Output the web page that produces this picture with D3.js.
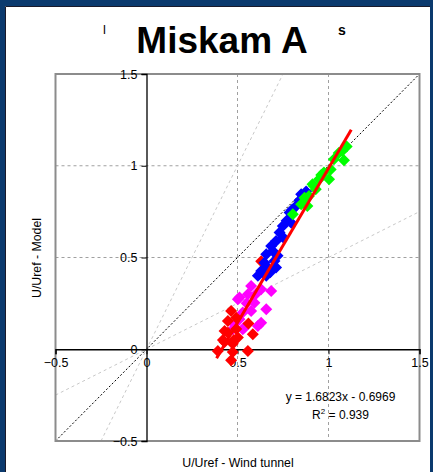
<!DOCTYPE html>
<html><head><meta charset="utf-8">
<script src="https://cdn.jsdelivr.net/npm/d3@7"></script>
<style>html,body{margin:0;padding:0;background:#fff;}svg{display:block;}</style>
</head><body>
<script>
const title = "Miskam A";
const xTitle = "U/Uref - Wind tunnel";
const yTitle = "U/Uref - Model";
const xTicks = [-0.5, 0, 0.5, 1, 1.5];
const yTicks = [-0.5, 0, 0.5, 1, 1.5];
const gridX = [0.5, 1];
const gridY = [0.5, 1];
const refSlopes = [2, 0.5];
const slope = 1.6823, intercept = -0.6969, r2 = 0.939;
const trendRange = [0.385, 1.125];

const magentaPts = [[0.575,0.345],[0.63,0.327],[0.557,0.30],[0.685,0.318],[0.511,0.282],[0.593,0.254],[0.658,0.218],[0.575,0.209],[0.529,0.20],[0.63,0.145],[0.484,0.136],[0.529,0.109],[0.474,0.109],[0.612,0.127],[0.511,0.163],[0.502,0.272],[0.538,0.118],[0.60,0.30],[0.55,0.25]];
const redPts = [[0.392,-0.01],[0.474,-0.015],[0.557,-0.01],[0.465,-0.06],[0.474,0.03],[0.429,0.04],[0.502,0.064],[0.584,0.082],[0.447,0.09],[0.493,0.11],[0.429,0.10],[0.447,0.154],[0.465,0.209],[0.493,0.172],[0.56,0.14],[0.42,0.05],[0.48,0.05],[0.63,0.48]];
const bluePts = [[0.877,0.86],[0.85,0.845],[0.84,0.81],[0.822,0.78],[0.80,0.76],[0.786,0.745],[0.795,0.69],[0.77,0.70],[0.749,0.672],[0.731,0.636],[0.75,0.61],[0.712,0.59],[0.685,0.563],[0.694,0.536],[0.658,0.518],[0.72,0.51],[0.703,0.481],[0.648,0.472],[0.712,0.445],[0.63,0.427],[0.658,0.40],[0.612,0.40],[0.68,0.42],[0.66,0.45]];
const greenPts = [[1.10,1.105],[1.075,1.08],[1.056,1.07],[1.085,1.03],[1.03,1.035],[1.012,0.98],[1.003,0.926],[0.975,0.963],[0.948,0.926],[0.912,0.899],[0.93,0.872],[0.893,0.835],[0.868,0.826],[0.884,0.781],[0.85,0.79],[0.804,0.736],[0.92,0.89],[0.96,0.95]];
const series = [
  {pts: magentaPts, color: "#ff00ff"},
  {pts: redPts, color: "#ff0000"},
  {pts: bluePts, color: "#0000ff"},
  {pts: greenPts, color: "#00ff00"}
];

const W = 433, H = 472;
const svg = d3.select("body").append("svg").attr("width", W).attr("height", H);
// frame
svg.append("rect").attr("width", W).attr("height", H).attr("fill", "#0b3a6e");
svg.append("rect").attr("x", 5).attr("y", 6).attr("width", 425).attr("height", H - 6).attr("fill", "#fff");
svg.append("path").attr("d", "M5.5,472V6.5H430").attr("stroke", "#1a1a2a").attr("fill", "none");

const x = d3.scaleLinear().domain([-0.5, 1.5]).range([55.5, 419.5]);
const y = d3.scaleLinear().domain([-0.5, 1.5]).range([441, 74]);
const font = "Liberation Sans, Arial, sans-serif";

// gridlines
svg.append("g").selectAll("line").data(gridX).join("line")
  .attr("x1", d => x(d)).attr("x2", d => x(d)).attr("y1", y(1.5)).attr("y2", y(-0.5))
  .attr("stroke", "#a0a0a0").attr("stroke-dasharray", "3,3");
svg.append("g").selectAll("line").data(gridY).join("line")
  .attr("y1", d => y(d)).attr("y2", d => y(d)).attr("x1", x(-0.5)).attr("x2", x(1.5))
  .attr("stroke", "#a0a0a0").attr("stroke-dasharray", "3,3");

// reference lines
svg.append("clipPath").attr("id", "pc").append("rect")
  .attr("x", x(-0.5)).attr("y", y(1.5)).attr("width", x(1.5) - x(-0.5)).attr("height", y(-0.5) - y(1.5));
const refG = svg.append("g").attr("clip-path", "url(#pc)");
refG.selectAll("line.ref").data(refSlopes).join("line").attr("class", "ref")
  .attr("x1", d => x(-0.5 / Math.max(d, 1)))
  .attr("y1", d => y(d * (-0.5 / Math.max(d, 1))))
  .attr("x2", d => x(1.5 / Math.max(d, 1)))
  .attr("y2", d => y(d * 1.5 / Math.max(d, 1)))
  .attr("stroke", "#c8c8c8").attr("stroke-width", 1).attr("stroke-dasharray", "3,3");
refG.append("line")
  .attr("x1", x(-0.5)).attr("y1", y(-0.5)).attr("x2", x(1.5)).attr("y2", y(1.5))
  .attr("stroke", "#000").attr("stroke-width", 1).attr("stroke-dasharray", "2,2");

// plot border
svg.append("rect").attr("x", x(-0.5)).attr("y", y(1.5)).attr("width", x(1.5) - x(-0.5)).attr("height", y(-0.5) - y(1.5))
  .attr("fill", "none").attr("stroke", "#8c8c8c").attr("stroke-width", 2);

// axes through origin
const xAxis = d3.axisBottom(x).tickValues(xTicks).tickSize(5).tickFormat(d3.format("~g"));
const yAxis = d3.axisLeft(y).tickValues(yTicks).tickSize(5).tickFormat(d3.format("~g"));
const gx = svg.append("g").attr("transform", `translate(0,${y(0)})`).call(xAxis);
const gy = svg.append("g").attr("transform", `translate(${x(0)},0)`).call(yAxis);
[gx, gy].forEach(g => {
  g.select(".domain").attr("stroke", "#000").attr("stroke-width", 1.3);
  g.selectAll(".tick line").attr("stroke", "#000");
  g.selectAll("text").attr("font-family", font).attr("font-size", 12.5).attr("fill", "#000");
});
gx.selectAll("text").attr("dy", "0.95em").attr("y", 6);
gy.selectAll("text").attr("x", -9).attr("dx", 0);

// points
series.forEach(s => {
  svg.append("g").selectAll("path").data(s.pts).join("path")
    .attr("d", d3.symbol().type(d3.symbolSquare).size(72))
    .attr("transform", d => `translate(${x(d[0])},${y(d[1])}) rotate(45)`)
    .attr("fill", s.color);
});

// trendline
svg.append("line")
  .attr("x1", x(trendRange[0])).attr("y1", y(slope * trendRange[0] + intercept))
  .attr("x2", x(trendRange[1])).attr("y2", y(slope * trendRange[1] + intercept))
  .attr("stroke", "#ff0000").attr("stroke-width", 3);

// equation
const eq = svg.append("g").attr("font-family", font).attr("font-size", 12).attr("fill", "#000").attr("text-anchor", "middle");
eq.append("text").attr("x", 340.5).attr("y", 401).text(`y = ${slope}x - ${Math.abs(intercept)}`);
const r2t = eq.append("text").attr("x", 340.5).attr("y", 418.5);
r2t.append("tspan").text("R");
r2t.append("tspan").attr("font-size", 8).attr("dy", -5).text("2");
r2t.append("tspan").attr("dy", 5).text(` = ${r2}`);

// titles
svg.append("text").attr("x", 103).attr("y", 34).attr("font-family", font).attr("font-size", 13).text("l");
svg.append("text").attr("x", 338).attr("y", 35).attr("font-family", font).attr("font-size", 14).attr("font-weight", "bold").text("s");
svg.append("rect").attr("x", 128).attr("y", 16).attr("width", 190).attr("height", 44).attr("fill", "#fff");
svg.append("text").attr("x", 222).attr("y", 53).attr("text-anchor", "middle").attr("font-family", font)
  .attr("font-weight", "bold").attr("font-size", 37).attr("fill", "#000").text(title);
svg.append("text").attr("x", 238).attr("y", 467).attr("text-anchor", "middle").attr("font-family", font)
  .attr("font-size", 12.3).attr("fill", "#000").text(xTitle);
svg.append("text").attr("transform", `translate(41,258) rotate(-90)`).attr("text-anchor", "middle").attr("font-family", font)
  .attr("font-size", 12.3).attr("fill", "#000").text(yTitle);
</script>
</body></html>
